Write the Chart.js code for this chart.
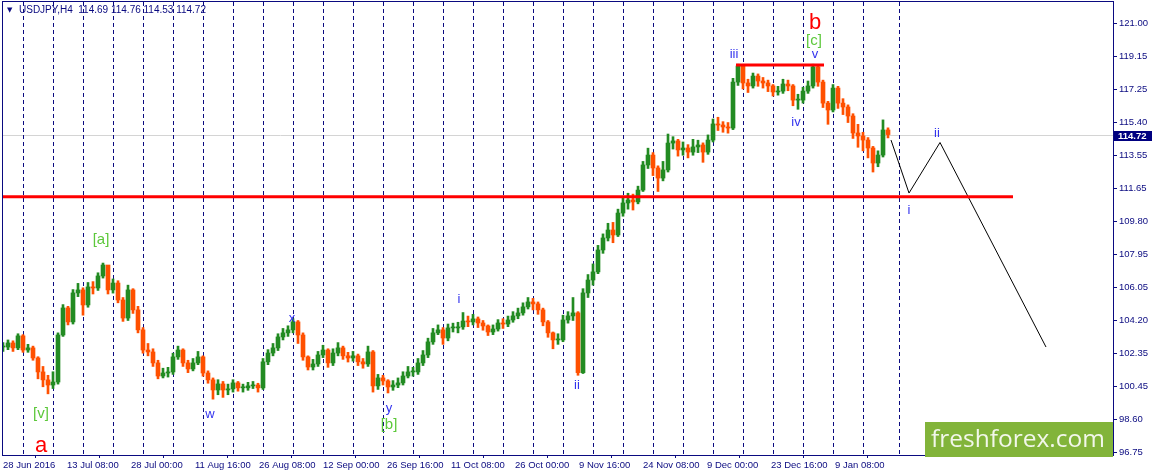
<!DOCTYPE html>
<html>
<head>
<meta charset="utf-8">
<script src="https://cdn.jsdelivr.net/npm/chart.js@4.4.1/dist/chart.umd.min.js"></script>
<style>
  html, body { margin: 0; padding: 0; background: #fff; }
  #wrap { width: 1152px; height: 476px; position: relative; }
</style>
</head>
<body>
<div id="wrap"><canvas id="chart" width="1152" height="476"></canvas></div>
<script>
// USDJPY H4, one candle per 5 bars; open = previous close
const closes = [
  102.70, 102.93, 102.65, 103.33, 102.53, 102.65, 102.08, 101.29, 100.84, 100.55,
  100.72, 103.38, 104.91, 104.12, 105.76, 105.93, 105.08, 106.10, 106.04, 106.72,
  107.34, 105.93, 106.32, 105.36, 104.34, 105.93, 104.80, 103.67, 102.53, 102.42,
  101.80, 101.06, 101.23, 101.29, 102.14, 102.53, 101.80, 101.46, 101.80, 102.14,
  101.23, 100.84, 100.27, 100.61, 100.27, 100.33, 100.67, 100.39, 100.39, 100.50,
  100.55, 100.39, 101.86, 102.36, 102.65, 103.27, 103.50, 103.67, 104.12, 103.38,
  102.14, 101.57, 101.74, 102.25, 102.53, 101.80, 102.36, 102.65, 102.20, 102.08,
  102.20, 101.86, 101.74, 102.42, 100.50, 100.95, 100.78, 100.44, 100.55, 100.67,
  101.06, 101.29, 101.29, 101.80, 102.25, 102.99, 103.50, 103.67, 103.21, 103.78,
  103.78, 103.84, 104.17, 104.12, 104.29, 104.06, 103.89, 103.55, 103.72, 104.06,
  104.00, 104.23, 104.46, 104.63, 104.97, 105.25, 105.14, 104.80, 104.12, 103.50,
  103.10, 103.10, 104.23, 104.46, 104.63, 101.25, 105.76, 106.49, 106.95, 108.19,
  108.87, 109.32, 109.04, 110.28, 110.85, 111.02, 110.91, 111.58, 113.00, 113.56,
  112.83, 112.26, 112.72, 114.24, 114.36, 113.85, 113.96, 113.73, 114.02, 114.13,
  113.73, 114.41, 115.32, 115.26, 115.15, 115.09, 117.69, 118.60, 117.64, 117.47,
  118.03, 117.75, 117.64, 117.47, 117.13, 117.18, 117.58, 117.47, 116.67, 116.67,
  117.18, 117.47, 118.55, 117.69, 116.50, 116.11, 117.35, 116.50, 116.28, 115.77,
  114.81, 114.64, 114.41, 113.96, 113.11, 113.56, 114.98, 114.72
];
const highs = [
  102.95, 103.10, 103.05, 103.45, 103.40, 102.85, 102.75, 102.15, 101.60, 101.10,
  101.30, 103.50, 105.10, 105.00, 105.95, 106.30, 106.05, 106.35, 106.40, 106.90,
  107.45, 107.30, 106.55, 106.45, 105.50, 106.20, 106.00, 105.00, 103.80, 102.90,
  102.60, 101.95, 101.50, 101.55, 102.35, 102.75, 102.60, 101.95, 102.05, 102.45,
  102.20, 101.35, 100.95, 100.85, 100.75, 100.60, 100.85, 100.75, 100.60, 100.70,
  100.75, 100.65, 102.05, 102.55, 102.90, 103.45, 103.75, 103.90, 104.30, 104.20,
  103.50, 102.20, 102.00, 102.45, 102.80, 102.60, 102.60, 102.95, 102.75, 102.40,
  102.45, 102.30, 102.05, 102.75, 102.50, 101.15, 101.10, 100.85, 100.80, 100.95,
  101.30, 101.60, 101.55, 102.05, 102.50, 103.20, 103.75, 103.95, 103.80, 104.00,
  104.05, 104.10, 104.65, 104.45, 104.55, 104.40, 104.20, 103.95, 103.95, 104.25,
  104.30, 104.45, 104.70, 104.90, 105.20, 105.50, 105.45, 105.25, 104.90, 104.20,
  103.55, 103.45, 104.50, 104.70, 105.50, 104.70, 106.00, 106.80, 107.40, 108.45,
  109.10, 109.70, 109.75, 110.50, 111.20, 111.40, 111.35, 111.80, 113.20, 113.95,
  113.70, 112.95, 113.20, 114.75, 114.60, 114.45, 114.30, 114.15, 114.45, 114.40,
  114.25, 114.70, 115.60, 115.70, 115.45, 115.40, 117.90, 118.70, 118.60, 117.85,
  118.20, 118.15, 117.95, 117.80, 117.55, 117.45, 117.85, 117.80, 117.55, 117.00,
  117.40, 117.75, 118.70, 118.60, 117.80, 116.60, 117.55, 117.45, 116.75, 116.40,
  115.90, 115.30, 114.85, 114.55, 114.05, 113.80, 115.55, 115.10
];
const lows = [
  102.45, 102.55, 102.45, 102.55, 102.40, 102.40, 101.95, 100.90, 100.45, 100.05,
  100.35, 100.60, 103.30, 103.95, 104.00, 105.55, 104.50, 104.95, 105.70, 105.90,
  106.60, 105.70, 105.75, 105.20, 104.15, 104.20, 104.60, 103.50, 102.35, 102.20,
  101.60, 100.90, 100.95, 101.00, 101.15, 102.00, 101.60, 101.25, 101.35, 101.70,
  101.05, 100.65, 99.75, 100.00, 99.85, 100.00, 100.15, 100.20, 100.15, 100.25,
  100.35, 100.15, 100.30, 101.70, 102.20, 102.50, 103.10, 103.30, 103.50, 102.90,
  101.95, 101.40, 101.40, 101.60, 102.10, 101.55, 101.65, 102.20, 102.00, 101.85,
  101.90, 101.65, 101.50, 101.60, 100.15, 100.30, 100.55, 100.10, 100.25, 100.40,
  100.55, 100.95, 101.05, 101.15, 101.65, 102.10, 102.85, 103.40, 102.85, 103.05,
  103.55, 103.50, 103.70, 103.85, 103.95, 103.80, 103.65, 103.35, 103.40, 103.60,
  103.75, 103.85, 104.10, 104.30, 104.50, 104.85, 104.80, 104.55, 103.90, 103.25,
  102.60, 102.85, 103.00, 104.05, 104.20, 101.10, 101.20, 105.50, 106.20, 106.85,
  108.00, 108.70, 108.60, 108.95, 110.10, 110.50, 110.45, 110.80, 111.50, 112.80,
  112.40, 111.50, 112.10, 112.60, 113.90, 113.50, 113.55, 113.40, 113.55, 113.70,
  113.15, 113.60, 114.30, 114.95, 114.85, 114.80, 115.00, 117.50, 117.30, 117.10,
  117.35, 117.45, 117.35, 117.15, 116.90, 116.95, 117.05, 117.20, 116.35, 116.15,
  116.50, 117.05, 117.35, 117.45, 116.25, 115.30, 116.00, 116.20, 115.85, 115.40,
  114.50, 114.00, 113.80, 113.40, 112.60, 112.90, 113.45, 114.53
];
const barsPerCandle = 5;

const timeLabels = ['28 Jun 2016', '13 Jul 08:00', '28 Jul 00:00', '11 Aug 16:00', '26 Aug 08:00',
  '12 Sep 00:00', '26 Sep 16:00', '11 Oct 08:00', '26 Oct 00:00', '9 Nov 16:00',
  '24 Nov 08:00', '9 Dec 00:00', '23 Dec 16:00', '9 Jan 08:00'];
const timeTickBars = [0, 64, 128, 192, 256, 320, 384, 448, 512, 576, 640, 704, 768, 832];
const priceTicks = [121.00, 119.15, 117.25, 115.40, 113.55, 111.65, 109.80, 107.95,
  106.05, 104.20, 102.35, 100.45, 98.60, 96.75];
const weekStarts = [20, 50, 80, 110, 140, 170, 200, 230, 260, 290, 320, 350, 380, 410, 440,
  470, 500, 530, 560, 590, 620, 650, 680, 710, 740, 770, 800, 830, 860, 896];

const quote = ['114.69', '114.76', '114.53', '114.72'];
const lastPrice = 114.72;
const supportPrice = 111.20;
const supportBars = [0, 1010];
const topPrice = 118.65;
const topBars = [733, 821];
const forecastBars = [888, 906, 937, 1043];
const forecastPrices = [114.41, 111.41, 114.27, 102.70];

// wave marks: text, bar, price, style
const waveLabels = [
  ['a', 38, 97.10, 'red'], ['[v]', 38, 98.91, 'green'], ['w', 207, 98.91, 'blue'],
  ['y', 386, 99.25, 'blue'], ['[b]', 386, 98.29, 'green'], ['[a]', 98, 108.76, 'green'],
  ['x', 289, 104.34, 'blue'], ['i', 456, 105.42, 'blue'], ['ii', 574, 100.55, 'blue'],
  ['iii', 731, 119.28, 'blue'], ['iv', 793, 115.43, 'blue'], ['v', 812, 119.28, 'blue'],
  ['[c]', 811, 120.01, 'green'], ['b', 812, 121.03, 'red'],
  ['ii', 934, 114.81, 'blue'], ['i', 906, 110.45, 'blue']
];

const NAVY = '#0a0a80';
const UP = '#228b22';
const DOWN = '#ff5000';
const FONT = '"Liberation Sans", Arial, sans-serif';
const labelStyle = {
  red: { color: '#ff0000', font: '22px ' + FONT },
  green: { color: '#5cc83a', font: '15px ' + FONT },
  blue: { color: '#3333ee', font: '13px ' + FONT }
};

const opens = closes.map((c, i) => i ? closes[i - 1] : c);
const bodies = closes.map((c, i) => ({ x: i * barsPerCandle, y: [opens[i], c] }));
const wicks = closes.map((c, i) => ({ x: i * barsPerCandle, y: [lows[i], highs[i]] }));
const candleColors = closes.map((c, i) => c < opens[i] ? DOWN : UP);

const overlay = {
  id: 'overlay',
  beforeDatasetsDraw(chart) {
    const { ctx, chartArea: a, scales: { x, y } } = chart;
    ctx.save();
    ctx.strokeStyle = '#d4d4d4';
    ctx.lineWidth = 1;
    const ly = Math.round(y.getPixelForValue(lastPrice)) + 0.5;
    ctx.beginPath(); ctx.moveTo(a.left, ly); ctx.lineTo(a.right, ly); ctx.stroke();
    ctx.strokeStyle = NAVY;
    ctx.setLineDash([4, 3]);
    weekStarts.forEach(b => {
      const px = Math.round(x.getPixelForValue(b)) + 0.5;
      ctx.beginPath(); ctx.moveTo(px, a.top); ctx.lineTo(px, a.bottom); ctx.stroke();
    });
    ctx.restore();
  },
  afterDatasetsDraw(chart) {
    const { ctx, chartArea: a, scales: { x, y } } = chart;
    ctx.save();
    // red levels
    ctx.strokeStyle = '#ff0000';
    ctx.lineWidth = 3;
    [[supportBars, supportPrice], [topBars, topPrice]].forEach(([bars, p]) => {
      const py = y.getPixelForValue(p);
      ctx.beginPath();
      ctx.moveTo(Math.max(a.left, x.getPixelForValue(bars[0])), py);
      ctx.lineTo(x.getPixelForValue(bars[1]), py);
      ctx.stroke();
    });
    // wave labels
    ctx.textAlign = 'center';
    ctx.textBaseline = 'middle';
    waveLabels.forEach(([t, b, p, kind]) => {
      ctx.fillStyle = labelStyle[kind].color;
      ctx.font = labelStyle[kind].font;
      ctx.fillText(t, x.getPixelForValue(b), y.getPixelForValue(p));
    });
    // frame
    ctx.strokeStyle = NAVY;
    ctx.lineWidth = 1;
    ctx.strokeRect(a.left - 0.5, a.top - 0.5, a.right - a.left + 1, a.bottom - a.top + 1);
    // header
    ctx.textAlign = 'left';
    ctx.fillStyle = NAVY;
    ctx.font = '7px "DejaVu Sans", sans-serif';
    ctx.fillText('\u25BC', 7, 10);
    ctx.font = '10px ' + FONT;
    ctx.fillText('USDJPY,H4  ' + quote.join(' '), 19, 10);
    // last price tag
    const ty = Math.round(y.getPixelForValue(lastPrice));
    ctx.fillStyle = '#000080';
    ctx.fillRect(a.right + 1, ty - 4, chart.width - a.right, 10);
    ctx.fillStyle = '#ffffff';
    ctx.font = 'bold 9.5px ' + FONT;
    ctx.fillText(lastPrice.toFixed(2), a.right + 5, ty + 1.5);
    // watermark
    ctx.fillStyle = '#82b43a';
    ctx.fillRect(925, 422, 188, 35);
    ctx.fillStyle = '#f2f7ea';
    ctx.font = '24.5px "Open Sans", sans-serif';
    ctx.textAlign = 'center';
    ctx.fillText('freshforex.com', 1018, 440);
    ctx.restore();
  }
};

new Chart(document.getElementById('chart'), {
  data: {
    datasets: [
      {
        type: 'bar',
        data: wicks,
        backgroundColor: candleColors,
        borderWidth: 0,
        barThickness: 2,
        grouped: false,
        order: 3
      },
      {
        type: 'bar',
        data: bodies,
        backgroundColor: candleColors,
        borderWidth: 0,
        barThickness: 4,
        minBarLength: 1,
        grouped: false,
        order: 2
      },
      {
        type: 'line',
        data: forecastBars.map((b, i) => ({ x: b, y: forecastPrices[i] })),
        borderColor: '#000000',
        borderWidth: 1,
        pointRadius: 0,
        tension: 0,
        order: 1
      }
    ]
  },
  plugins: [overlay],
  options: {
    responsive: false,
    animation: false,
    devicePixelRatio: 1,
    layout: { padding: { left: 3, top: 2, right: 0, bottom: 0 } },
    plugins: { legend: { display: false }, tooltip: { enabled: false } },
    scales: {
      x: {
        type: 'linear',
        min: 0,
        max: 1110,
        offset: false,
        afterBuildTicks: s => { s.ticks = timeTickBars.map(v => ({ value: v })); },
        afterFit: s => { s.height = 21; s.paddingLeft = 0; s.paddingRight = 0; },
        grid: { drawOnChartArea: false, tickLength: 3, color: NAVY },
        border: { color: NAVY },
        ticks: {
          align: 'start',
          maxRotation: 0,
          autoSkip: false,
          padding: 2,
          color: NAVY,
          font: { family: FONT, size: 9.5 },
          callback: v => timeLabels[timeTickBars.indexOf(v)]
        }
      },
      y: {
        position: 'right',
        min: 96.59,
        max: 122.22,
        afterBuildTicks: s => { s.ticks = priceTicks.map(v => ({ value: v })); },
        afterFit: s => { s.width = 39; s.paddingTop = 0; s.paddingBottom = 0; },
        grid: { drawOnChartArea: false, tickLength: 4, color: NAVY },
        border: { color: NAVY },
        ticks: {
          padding: 2,
          color: NAVY,
          font: { family: FONT, size: 9.5 },
          callback: v => v.toFixed(2)
        }
      }
    }
  }
});
</script>
</body>
</html>
